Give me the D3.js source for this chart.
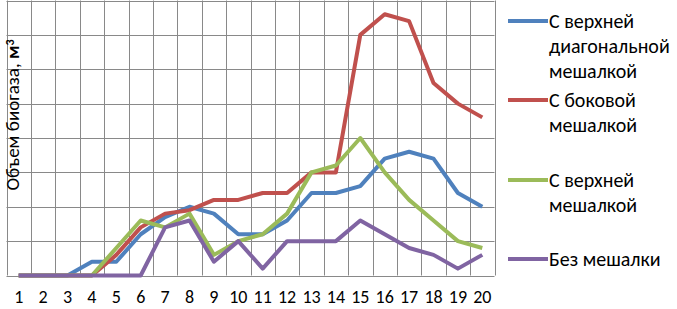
<!DOCTYPE html>
<html>
<head>
<meta charset="utf-8">
<script src="https://cdn.jsdelivr.net/npm/d3@7"></script>
<style>
  body { margin: 0; background: #fff; }
  svg { display: block; font-family: Carlito, Lato, "Open Sans", sans-serif; }
</style>
</head>
<body>
<script>
    // days 1..20
    const days = d3.range(1, 21);

    const seriesNames = [
        ["С верхней", "диагональной", "мешалкой"],
        ["С боковой", "мешалкой"],
        ["С верхней", "мешалкой"],
        ["Без мешалки"]
    ];
    const colors = ["#4F81BD", "#C0504D", "#9BBB59", "#8064A2"];

    // values in grid units (no axis labels in the source)
    const diagonalMixer = [0, 0, 0, 0.4, 0.4, 1.2, 1.7, 2.0, 1.8, 1.2, 1.2, 1.6, 2.4, 2.4, 2.6, 3.4, 3.6, 3.4, 2.4, 2.0];
    const sideMixer     = [0, 0, 0, 0, 0.6, 1.4, 1.8, 1.9, 2.2, 2.2, 2.4, 2.4, 3.0, 3.0, 7.0, 7.6, 7.4, 5.6, 5.0, 4.6];
    const topMixer      = [0, 0, 0, 0, 0.8, 1.6, 1.4, 1.8, 0.6, 1.0, 1.2, 1.8, 3.0, 3.2, 4.0, 3.0, 2.2, 1.6, 1.0, 0.8];
    const noMixer       = [0, 0, 0, 0, 0, 0, 1.4, 1.6, 0.4, 1.0, 0.2, 1.0, 1.0, 1.0, 1.6, 1.2, 0.8, 0.6, 0.2, 0.6];

    const allSeries = [diagonalMixer, sideMixer, topMixer, noMixer];

    const width = 677, height = 309;
    const plot = { left: 6.5, right: 494.5, top: 0.5, bottom: 275.5 };

    const svg = d3.select("body").append("svg")
        .attr("width", width)
        .attr("height", height);

    const x = d3.scaleBand().domain(days).range([plot.left, plot.right]);
    const y = d3.scaleLinear().domain([0, 8]).range([plot.bottom, plot.top]);

    const grid = svg.append("g").attr("stroke", "#898989").attr("stroke-width", 1);

    // horizontal grid
    grid.selectAll("line.h")
        .data(d3.range(0, 9))
        .join("line")
        .attr("class", "h")
        .attr("x1", plot.left).attr("x2", plot.right)
        .attr("y1", d => Math.round(y(d)) + 0.5)
        .attr("y2", d => Math.round(y(d)) + 0.5);

    // vertical grid at band edges
    grid.selectAll("line.v")
        .data(d3.range(0, 21))
        .join("line")
        .attr("class", "v")
        .attr("x1", d => Math.round(plot.left + d * x.step()) + 0.5)
        .attr("x2", d => Math.round(plot.left + d * x.step()) + 0.5)
        .attr("y1", plot.top).attr("y2", plot.bottom);

    // x axis labels
    const xAxis = d3.axisBottom(x).tickSize(0).tickPadding(15);
    svg.append("g")
        .attr("transform", `translate(0,${plot.bottom})`)
        .call(xAxis)
        .call(g => g.select(".domain").remove())
        .call(g => g.selectAll("text")
            .attr("font-size", 18)
            .attr("font-family", "Carlito, Lato, 'Open Sans', sans-serif")
            .attr("fill", "#000"));

    const line = d3.line()
        .x((d, i) => x(days[i]) + x.bandwidth() / 2)
        .y(d => y(d));

    svg.append("g")
        .selectAll("path")
        .data(allSeries)
        .join("path")
        .attr("d", line)
        .attr("fill", "none")
        .attr("stroke", (d, i) => colors[i])
        .attr("stroke-width", 4)
        .attr("stroke-linejoin", "round");

    // y label
    const yl = svg.append("text")
        .attr("transform", "translate(18.5,115) rotate(-90)")
        .attr("text-anchor", "middle")
        .attr("font-size", 19)
        .attr("fill", "#000");
    yl.append("tspan").text("Объем биогаза, ");
    yl.append("tspan").attr("font-weight", "bold").text("м");
    yl.append("tspan").attr("font-weight", "bold").attr("font-size", 12).attr("dy", -5).text("3");

    // legend
    const legendY = [21, 100, 180, 259];
    const legend = svg.append("g");
    seriesNames.forEach((lines, i) => {
        const g = legend.append("g").attr("transform", `translate(508,${legendY[i]})`);
        g.append("line")
            .attr("x1", 0).attr("x2", 40)
            .attr("stroke", colors[i]).attr("stroke-width", 4);
        g.append("text")
            .attr("x", 41)
            .attr("y", 7)
            .attr("font-size", 20)
            .attr("fill", "#000")
            .selectAll("tspan")
            .data(lines)
            .join("tspan")
            .attr("x", 41)
            .attr("dy", (d, j) => j === 0 ? 0 : 25)
            .text(d => d);
    });
</script>
</body>
</html>
